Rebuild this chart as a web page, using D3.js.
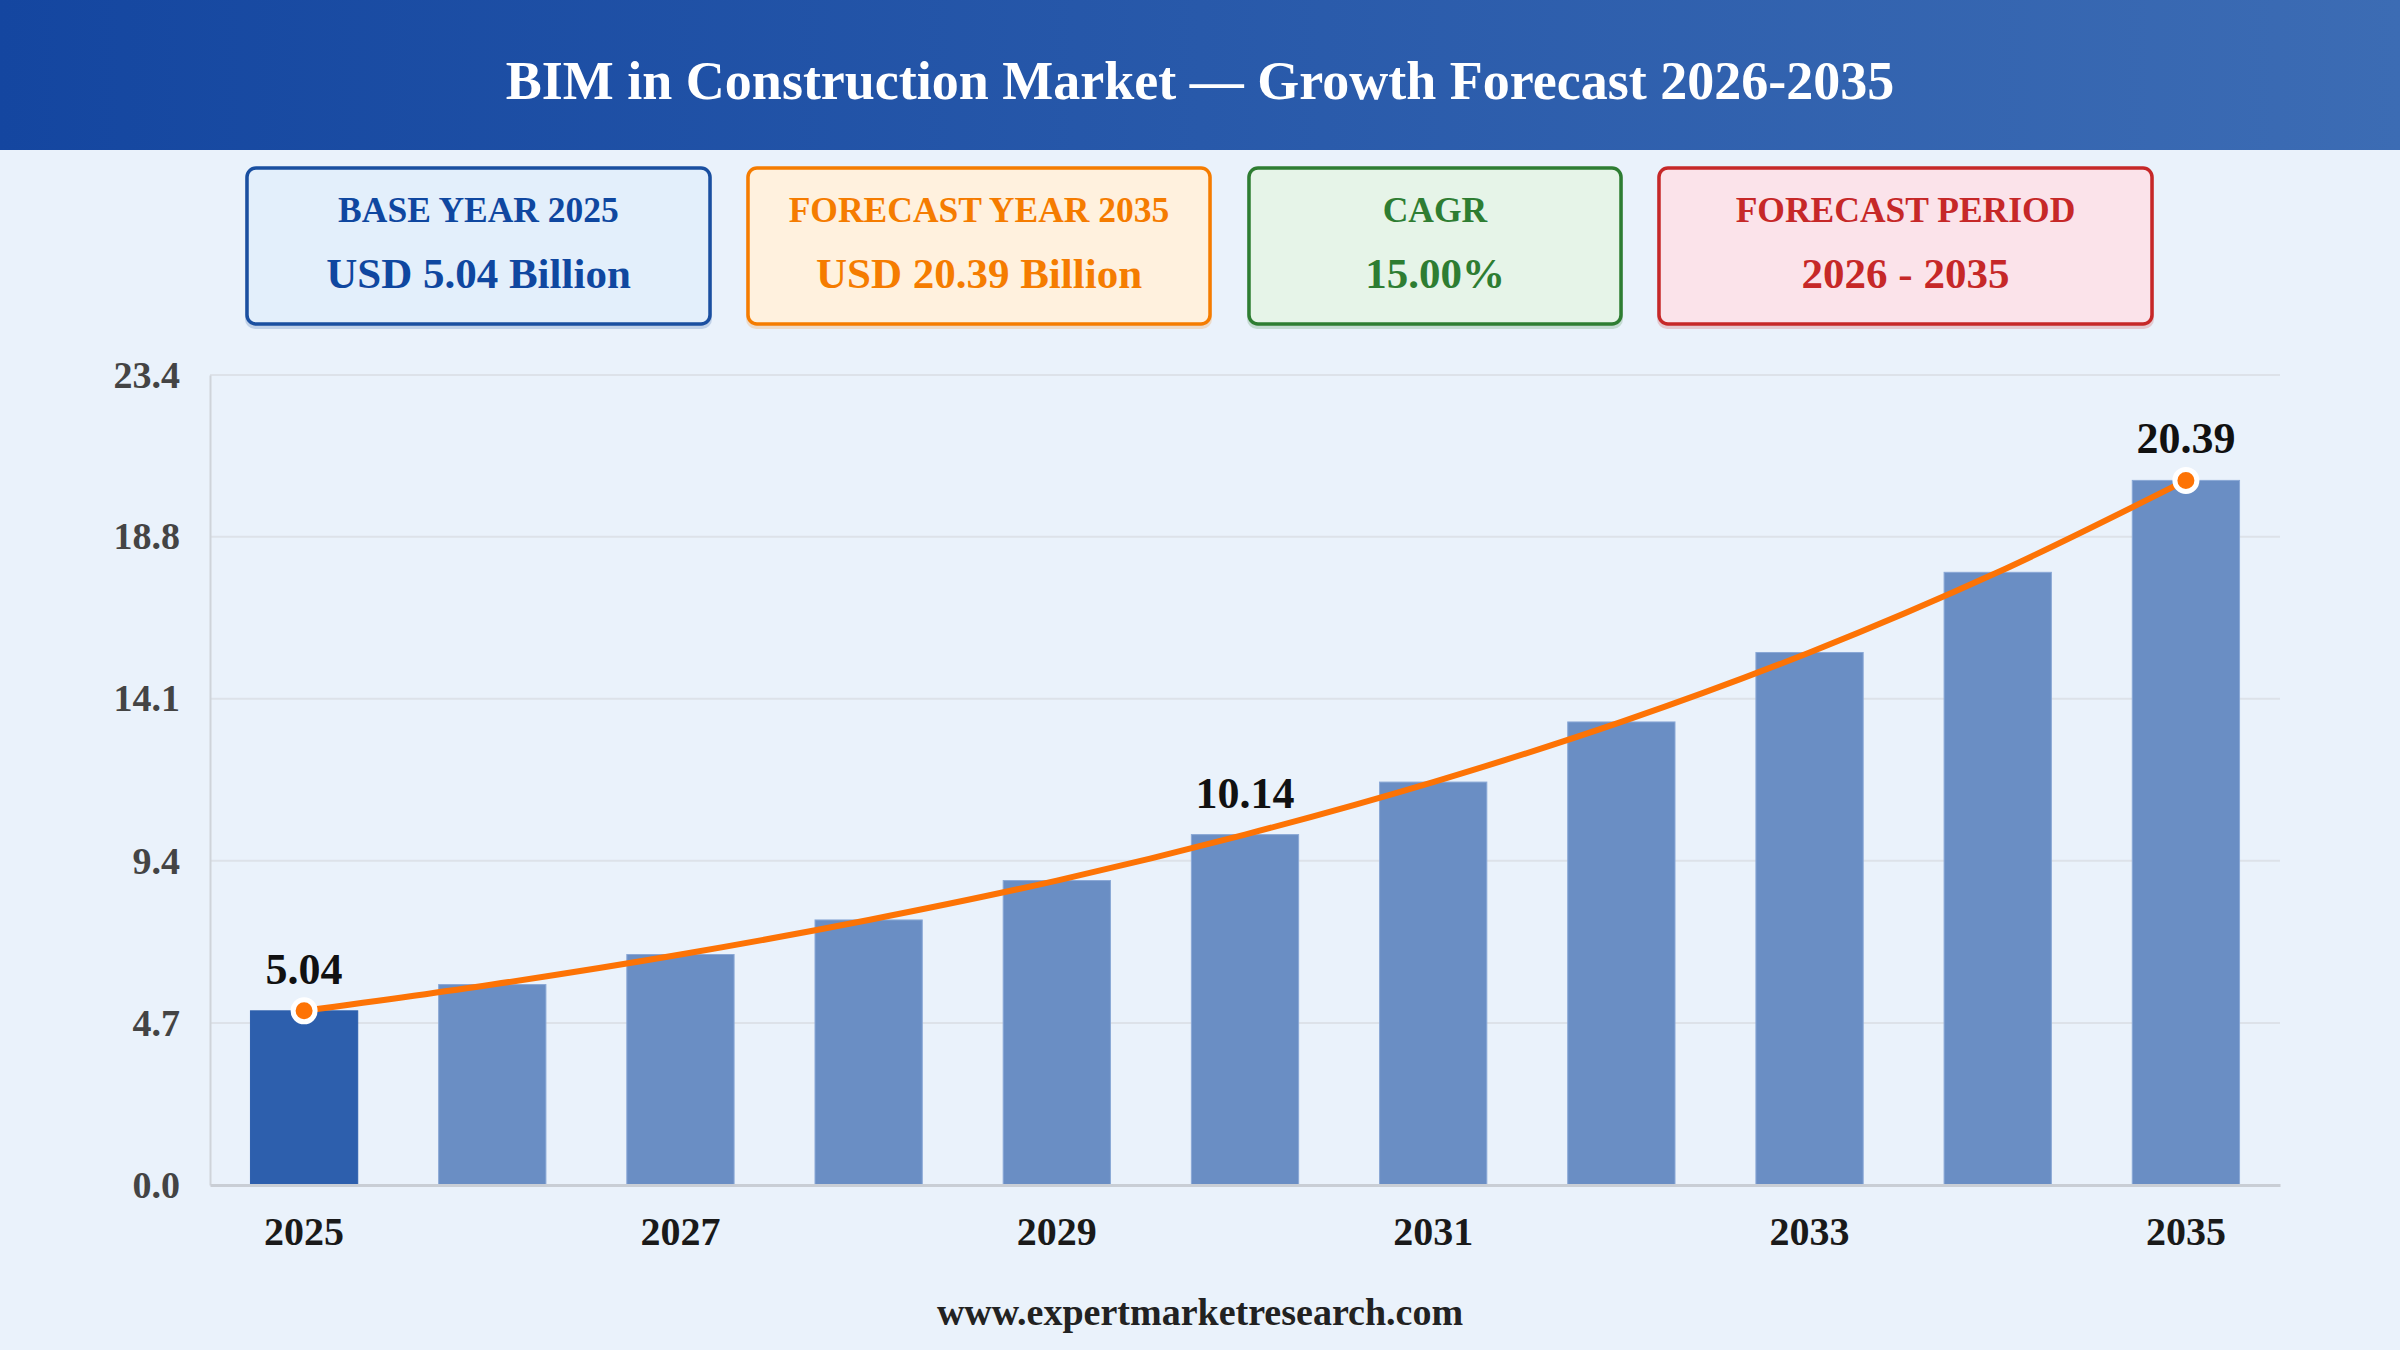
<!DOCTYPE html>
<html>
<head>
<meta charset="utf-8">
<script src="https://cdn.jsdelivr.net/npm/d3@7"></script>
<style>
  html, body { margin: 0; padding: 0; background: #eaf2fb; }
  svg { display: block; font-family: "Liberation Serif", "Times New Roman", serif; }
</style>
</head>
<body>
<svg id="chart"></svg>
<script>
// chart data
const years = ["2025", "2026", "2027", "2028", "2029", "2030", "2031", "2032", "2033", "2034", "2035"];
const marketValues = [5.04, 5.80, 6.67, 7.67, 8.81, 10.14, 11.66, 13.40, 15.41, 17.73, 20.39];
const labelledYears = ["2025", "2030", "2035"];
const dotYears = ["2025", "2035"];
const xTickLabels = ["2025", "2027", "2029", "2031", "2033", "2035"];
const yTickValues = [0, 4.69, 9.38, 14.07, 18.76, 23.44];
const yMax = 23.44;

const titleText = "BIM in Construction Market \u2014 Growth Forecast 2026-2035";
const cardLabels = ["BASE YEAR 2025", "FORECAST YEAR 2035", "CAGR", "FORECAST PERIOD"];
const cardValues = ["USD 5.04 Billion", "USD 20.39 Billion", "15.00%", "2026 - 2035"];
const sourceText = "www.expertmarketresearch.com";

const W = 2400, H = 1350;
const margin = { top: 375, right: 120, bottom: 165, left: 210 };
const innerW = W - margin.left - margin.right;
const innerH = H - margin.top - margin.bottom;

// card look (layout only)
const cardBoxes = [
  { x: 245, w: 467, stroke: "#1a4fa0", fill: "#e3effb", text: "#0f47a0" },
  { x: 746, w: 466, stroke: "#f57c00", fill: "#fff1de", text: "#f57c00" },
  { x: 1247, w: 376, stroke: "#2e7d32", fill: "#e6f4e8", text: "#2e7d32" },
  { x: 1657, w: 497, stroke: "#c62828", fill: "#fbe3ea", text: "#c62828" },
];

const svg = d3.select("#chart").attr("width", W).attr("height", H);

const defs = svg.append("defs");
const grad = defs.append("linearGradient").attr("id", "hdr").attr("x1", "0%").attr("x2", "100%");
grad.append("stop").attr("offset", "0%").attr("stop-color", "#1446a0");
grad.append("stop").attr("offset", "100%").attr("stop-color", "#3c6cb4");

svg.append("rect").attr("width", W).attr("height", H).attr("fill", "#eaf2fb");

// header band
svg.append("rect").attr("width", W).attr("height", 150).attr("fill", "url(#hdr)");
svg.append("text")
  .attr("x", W / 2)
  .attr("y", 99)
  .attr("text-anchor", "middle")
  .attr("fill", "#ffffff")
  .attr("font-size", 54)
  .attr("font-weight", "bold")
  .text(titleText);

// KPI cards
const cards = svg.append("g")
  .selectAll("g")
  .data(cardLabels)
  .join("g")
  .attr("transform", (d, i) => `translate(${cardBoxes[i].x},166)`);

cards.append("rect")
  .attr("x", 0).attr("y", 3)
  .attr("width", (d, i) => cardBoxes[i].w)
  .attr("height", 160)
  .attr("rx", 10)
  .attr("fill", (d, i) => cardBoxes[i].stroke)
  .attr("opacity", 0.2);

cards.append("rect")
  .attr("x", 2).attr("y", 2)
  .attr("width", (d, i) => cardBoxes[i].w - 4)
  .attr("height", 156)
  .attr("rx", 9)
  .attr("fill", (d, i) => cardBoxes[i].fill)
  .attr("stroke", (d, i) => cardBoxes[i].stroke)
  .attr("stroke-width", 3.5);

cards.append("text")
  .attr("x", (d, i) => cardBoxes[i].w / 2)
  .attr("y", 56)
  .attr("text-anchor", "middle")
  .attr("font-size", 35.5)
  .attr("font-weight", "bold")
  .attr("fill", (d, i) => cardBoxes[i].text)
  .text((d) => d);

cards.append("text")
  .attr("x", (d, i) => cardBoxes[i].w / 2)
  .attr("y", 122)
  .attr("text-anchor", "middle")
  .attr("font-size", 43)
  .attr("font-weight", "bold")
  .attr("fill", (d, i) => cardBoxes[i].text)
  .text((d, i) => cardValues[i]);

// chart area
const chart = svg.append("g").attr("transform", `translate(${margin.left},${margin.top})`);

const xScale = d3.scaleBand().domain(years).range([0, innerW]).paddingInner(0.43).paddingOuter(0.215);
const yScale = d3.scaleLinear().domain([0, yMax]).range([innerH, 0]);

// gridlines
chart.append("g")
  .selectAll("line")
  .data(yTickValues.filter((d) => d > 0))
  .join("line")
  .attr("x1", 0)
  .attr("x2", innerW)
  .attr("y1", (d) => yScale(d))
  .attr("y2", (d) => yScale(d))
  .attr("stroke", "#dde2e9")
  .attr("stroke-width", 2);

// y axis
const yAxis = chart.append("g")
  .call(d3.axisLeft(yScale).tickValues(yTickValues).tickFormat(d3.format(".1f")).tickSize(0).tickPadding(30));
yAxis.select(".domain").attr("stroke", "#cfd4da").attr("stroke-width", 2);
yAxis.selectAll("text")
  .attr("font-family", "Liberation Serif, Times New Roman, serif")
  .attr("font-size", 38)
  .attr("font-weight", "bold")
  .attr("fill", "#444444");

// bars
chart.append("g")
  .selectAll("rect")
  .data(years)
  .join("rect")
  .attr("x", (d) => xScale(d))
  .attr("y", (d, i) => yScale(marketValues[i]))
  .attr("width", xScale.bandwidth())
  .attr("height", (d, i) => innerH - yScale(marketValues[i]))
  .attr("fill", (d, i) => (i === 0 ? "#2d5fad" : "#6a8ec4"))
  .attr("stroke", (d, i) => (i === 0 ? "#2d5fad" : "#8aa8d6"))
  .attr("stroke-width", 1);

// x axis
const xAxis = chart.append("g")
  .attr("transform", `translate(0,${innerH})`)
  .call(d3.axisBottom(xScale).tickValues(xTickLabels).tickSize(0).tickPadding(32));
xAxis.select(".domain").attr("stroke", "#c9ced5").attr("stroke-width", 3);
xAxis.selectAll("text")
  .attr("font-family", "Liberation Serif, Times New Roman, serif")
  .attr("font-size", 40)
  .attr("font-weight", "bold")
  .attr("fill", "#1a1a1a");

// trend line through bar tops
const cx = (d) => xScale(d) + xScale.bandwidth() / 2;
const line = d3.line()
  .x((d) => cx(d))
  .y((d, i) => yScale(marketValues[i]))
  .curve(d3.curveMonotoneX);

chart.append("path")
  .datum(years)
  .attr("d", line)
  .attr("fill", "none")
  .attr("stroke", "#fd7305")
  .attr("stroke-width", 6)
  .attr("stroke-linecap", "round");

chart.append("g")
  .selectAll("circle")
  .data(dotYears)
  .join("circle")
  .attr("cx", (d) => cx(d))
  .attr("cy", (d) => yScale(marketValues[years.indexOf(d)]))
  .attr("r", 11)
  .attr("fill", "#fd7305")
  .attr("stroke", "#ffffff")
  .attr("stroke-width", 5);

chart.append("g")
  .selectAll("text")
  .data(labelledYears)
  .join("text")
  .attr("x", (d) => cx(d))
  .attr("y", (d) => yScale(marketValues[years.indexOf(d)]) - 27)
  .attr("text-anchor", "middle")
  .attr("font-size", 44)
  .attr("font-weight", "bold")
  .attr("fill", "#111111")
  .text((d) => marketValues[years.indexOf(d)].toFixed(2));

// source
svg.append("text")
  .attr("x", W / 2)
  .attr("y", 1325)
  .attr("text-anchor", "middle")
  .attr("font-size", 38)
  .attr("font-weight", "bold")
  .attr("fill", "#222222")
  .text(sourceText);
</script>
</body>
</html>
